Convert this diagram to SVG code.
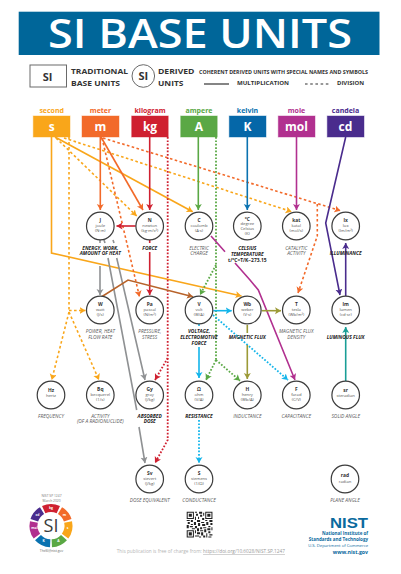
<svg xmlns="http://www.w3.org/2000/svg" width="401" height="574" viewBox="0 0 401 574">
<style>
text{font-family:"Open Sans","Liberation Sans",Arial,sans-serif}
.c{fill:none;stroke-width:1.6;stroke-linejoin:miter}
.dash{stroke-dasharray:2.6 2.4;stroke-width:1.6}
.dot{stroke-dasharray:1.7 1.7;stroke-width:1.8}
.n{fill:#fff;stroke:#3c3c3c;stroke-width:1.2}
.sy{font-size:4.9px;font-weight:700;text-anchor:middle;fill:#333}
.nm{font-size:4.2px;text-anchor:middle;fill:#555}
.cap{font-size:4.9px;font-style:italic;text-anchor:middle;fill:#5a5a5a}
.capb{font-size:4.9px;font-style:italic;font-weight:700;text-anchor:middle;fill:#222}
.box{stroke-width:1;stroke-opacity:.45}
.bl{font-size:12px;font-weight:700;text-anchor:middle;fill:#fff}
.ul{font-size:7px;font-weight:700;text-anchor:middle}
.lg{font-size:7px;font-weight:700;fill:#333}
.lgs{font-size:4.4px;font-weight:700;fill:#333}
.nist{fill:#0a6a9e;font-weight:700;text-anchor:end}
.seg{fill:none;stroke-width:8}
.sl{font-size:3.4px;fill:#fff;text-anchor:middle;font-weight:700}
.org{stroke:#f9a61a}.mor{stroke:#f26a2a}.red{stroke:#cf2030}.grn{stroke:#5aa845}.blu{stroke:#0a72b0}.mag{stroke:#b1308f}.pur{stroke:#4a2c8d}.gry{stroke:#8f9193}.brn{stroke:#b8632a}.cya{stroke:#13b5ea}.olv{stroke:#9c9a37}.tea{stroke:#1a9e96}
</style>
<defs>
<marker id="aorg" markerUnits="userSpaceOnUse" markerWidth="8" markerHeight="8" refX="6" refY="3.5" orient="auto"><path d="M0 0L6 3.5L0 7L1.4 3.5z" fill="#f9a61a"/></marker>
<marker id="amor" markerUnits="userSpaceOnUse" markerWidth="8" markerHeight="8" refX="6" refY="3.5" orient="auto"><path d="M0 0L6 3.5L0 7L1.4 3.5z" fill="#f26a2a"/></marker>
<marker id="ared" markerUnits="userSpaceOnUse" markerWidth="8" markerHeight="8" refX="6" refY="3.5" orient="auto"><path d="M0 0L6 3.5L0 7L1.4 3.5z" fill="#cf2030"/></marker>
<marker id="agrn" markerUnits="userSpaceOnUse" markerWidth="8" markerHeight="8" refX="6" refY="3.5" orient="auto"><path d="M0 0L6 3.5L0 7L1.4 3.5z" fill="#5aa845"/></marker>
<marker id="ablu" markerUnits="userSpaceOnUse" markerWidth="8" markerHeight="8" refX="6" refY="3.5" orient="auto"><path d="M0 0L6 3.5L0 7L1.4 3.5z" fill="#0a72b0"/></marker>
<marker id="amag" markerUnits="userSpaceOnUse" markerWidth="8" markerHeight="8" refX="6" refY="3.5" orient="auto"><path d="M0 0L6 3.5L0 7L1.4 3.5z" fill="#b1308f"/></marker>
<marker id="apur" markerUnits="userSpaceOnUse" markerWidth="8" markerHeight="8" refX="6" refY="3.5" orient="auto"><path d="M0 0L6 3.5L0 7L1.4 3.5z" fill="#4a2c8d"/></marker>
<marker id="agry" markerUnits="userSpaceOnUse" markerWidth="8" markerHeight="8" refX="6" refY="3.5" orient="auto"><path d="M0 0L6 3.5L0 7L1.4 3.5z" fill="#8f9193"/></marker>
<marker id="abrn" markerUnits="userSpaceOnUse" markerWidth="8" markerHeight="8" refX="6" refY="3.5" orient="auto"><path d="M0 0L6 3.5L0 7L1.4 3.5z" fill="#b8632a"/></marker>
<marker id="acya" markerUnits="userSpaceOnUse" markerWidth="8" markerHeight="8" refX="6" refY="3.5" orient="auto"><path d="M0 0L6 3.5L0 7L1.4 3.5z" fill="#13b5ea"/></marker>
<marker id="aolv" markerUnits="userSpaceOnUse" markerWidth="8" markerHeight="8" refX="6" refY="3.5" orient="auto"><path d="M0 0L6 3.5L0 7L1.4 3.5z" fill="#9c9a37"/></marker>
<marker id="atea" markerUnits="userSpaceOnUse" markerWidth="8" markerHeight="8" refX="6" refY="3.5" orient="auto"><path d="M0 0L6 3.5L0 7L1.4 3.5z" fill="#1a9e96"/></marker>
</defs>
<rect width="401" height="574" fill="#fff"/>
<g id="title"><rect x="18.7" y="11.7" width="360.8" height="43.3" fill="#006699"/><text x="200" y="48" font-size="39" font-weight="600" text-anchor="middle" fill="#fff" textLength="304" lengthAdjust="spacingAndGlyphs">SI BASE UNITS</text></g>
<g id="legend">
<rect x="30" y="65" width="36.5" height="22" fill="#fff" stroke="#6a6a6a" stroke-width="1"/><text x="47.500" y="81" font-size="11" font-weight="700" text-anchor="middle" fill="#333">SI</text>
<text class="lg" x="71" y="74" textLength="57" lengthAdjust="spacingAndGlyphs">TRADITIONAL</text><text class="lg" x="71" y="85.500" textLength="49" lengthAdjust="spacingAndGlyphs">BASE UNITS</text>
<circle cx="143.300" cy="76" r="11.300" fill="#fff" stroke="#6a6a6a" stroke-width="1"/><text x="143.300" y="80" font-size="11" font-weight="700" text-anchor="middle" fill="#333">SI</text>
<text class="lg" x="158" y="74" textLength="36.500" lengthAdjust="spacingAndGlyphs">DERIVED</text><text class="lg" x="158" y="85.500" textLength="25.500" lengthAdjust="spacingAndGlyphs">UNITS</text>
<text class="lgs" x="199" y="74" textLength="169" lengthAdjust="spacingAndGlyphs">COHERENT DERIVED UNITS WITH SPECIAL NAMES AND SYMBOLS</text>
<path d="M204 84h25" stroke="#333" stroke-width="1.2"/><text class="lgs" x="237" y="85" textLength="52" lengthAdjust="spacingAndGlyphs">MULTIPLICATION</text>
<path d="M305 84h25" stroke="#333" stroke-width="1.2" stroke-dasharray="2.6 2.6"/><text class="lgs" x="337" y="85" textLength="27" lengthAdjust="spacingAndGlyphs">DIVISION</text>
</g>
<g id="connectors">
<path class="c org" d="M51.500 137V253L241.500 296" marker-end="url(#aorg)"/>
<path class="c org" d="M55 137L192.700 211.700" marker-end="url(#aorg)"/>
<path class="c org dash" d="M56 138L136.700 216" marker-end="url(#aorg)"/>
<path class="c org dash" d="M64 138L291.700 211.700" marker-end="url(#aorg)"/>
<path class="c org dash" d="M69 137V310" />
<path class="c org dash" d="M69 310.500H85.500" marker-end="url(#aorg)"/>
<path class="c org dash" d="M69 312L51.700 380" marker-end="url(#aorg)"/>
<path class="c org dash" d="M69 312L99 380" marker-end="url(#aorg)"/>
<path class="c mor" d="M100.300 137V210" marker-end="url(#amor)"/>
<path class="c mor" d="M101 137L143 210" marker-end="url(#amor)"/>
<path class="c mor dash" d="M102 138L139.500 296.700" marker-end="url(#amor)"/>
<path class="c mor dash" d="M103 138L340.500 210.700" marker-end="url(#amor)"/>
<path class="c mor dash" d="M317.300 204V236L298 293" marker-end="url(#amor)"/>
<path class="c red" d="M149.700 137V210" marker-end="url(#ared)"/>
<path class="c red" d="M135.700 226H116.500" marker-end="url(#ared)"/>
<path class="c red" d="M149.700 240V243M149.700 252V295" marker-end="url(#ared)"/>
<path class="c red dot" d="M167.700 137V358L155 380" marker-end="url(#ared)"/>
<path class="c red dot" d="M167.700 358V440L155 463" marker-end="url(#ared)"/>
<path class="c grn" d="M198.300 137V210" marker-end="url(#agrn)"/>
<path class="c grn dot" d="M216 137V360"/>
<path class="c grn dot" d="M216 265L200 295" marker-end="url(#agrn)"/>
<path class="c grn dot" d="M216 360L206 380" marker-end="url(#agrn)"/>
<path class="c grn dot" d="M216 360L240 380.700" marker-end="url(#agrn)"/>
<path class="c blu" d="M247.300 137V210" marker-end="url(#ablu)"/>
<path class="c mag" d="M296.500 137V210" marker-end="url(#amag)"/>
<path class="c pur" d="M345.700 137L325.700 223L340 295" marker-end="url(#apur)"/>
<path class="c pur" d="M345.700 296V243" marker-end="url(#apur)"/>
<path class="c tea" d="M345.700 381V327" marker-end="url(#atea)"/>
<path class="c mag" d="M211 236L225 251.700M235 263L250 280L258.300 290L295 380" marker-end="url(#amag)"/>
<path class="c gry" d="M100 240V243M100 266V295" marker-end="url(#agry)"/>
<path class="c gry" d="M113 240L114 243M116.700 258L145 380" marker-end="url(#agry)"/>
<path class="c gry" d="M104 240L105 243M108 258L136.700 410M139 427L145 463" marker-end="url(#agry)"/>
<path class="c brn" d="M101.700 296.700L128 280L193 296.700" marker-end="url(#abrn)"/>
<path class="c cya" d="M213.300 310.700H231.700" marker-end="url(#acya)"/>
<path class="c cya" d="M199 324V326M199 347V378" marker-end="url(#acya)"/>
<path class="c cya dot" d="M213 315L288 380" marker-end="url(#acya)"/>
<path class="c cya dot" d="M199 420V463" marker-end="url(#acya)"/>
<path class="c olv" d="M261.700 310.700H281" marker-end="url(#aolv)"/>
<path class="c olv" d="M247.300 325V333M247.300 345V379" marker-end="url(#aolv)"/>
</g>
<g id="base-s"><text class="ul" x="51.700" y="113" fill="#f9a61a">second</text><rect class="box" x="33.300" y="116" width="36.700" height="21" fill="#f9a61a" stroke="#f9a61a"/><text class="bl" x="51.700" y="130.500">s</text></g>
<g id="base-m"><text class="ul" x="100.500" y="113" fill="#f26a2a">meter</text><rect class="box" x="82" y="116" width="37" height="21" fill="#f26a2a" stroke="#f26a2a"/><text class="bl" x="100.500" y="130.500">m</text></g>
<g id="base-kg"><text class="ul" x="150" y="113" fill="#cf2030">kilogram</text><rect class="box" x="131.700" y="116" width="36.500" height="21" fill="#cf2030" stroke="#cf2030"/><text class="bl" x="150" y="130.500">kg</text></g>
<g id="base-A"><text class="ul" x="199" y="113" fill="#5aa845">ampere</text><rect class="box" x="180.700" y="116" width="36.500" height="21" fill="#5aa845" stroke="#5aa845"/><text class="bl" x="199" y="130.500">A</text></g>
<g id="base-K"><text class="ul" x="247.500" y="113" fill="#0a72b0">kelvin</text><rect class="box" x="229.300" y="116" width="36.700" height="21" fill="#0567a8" stroke="#0567a8"/><text class="bl" x="247.500" y="130.500">K</text></g>
<g id="base-mol"><text class="ul" x="296.500" y="113" fill="#b1308f">mole</text><rect class="box" x="278.300" y="116" width="36.700" height="21" fill="#b1308f" stroke="#b1308f"/><text class="bl" x="296.500" y="130.500">mol</text></g>
<g id="base-cd"><text class="ul" x="345.500" y="113" fill="#4a2c8d">candela</text><rect class="box" x="327.300" y="116" width="36.700" height="21" fill="#4a2c8d" stroke="#4a2c8d"/><text class="bl" x="345.500" y="130.500">cd</text></g>

<g id="node-J"><circle class="n" cx="100.300" cy="226" r="13.800"/><text class="sy" x="100.300" y="221.500">J</text><text class="nm" x="100.300" y="227">joule</text><text class="nm" x="100.300" y="232">(N·m)</text><text class="capb" x="100.300" y="249.500">ENERGY, WORK,</text><text class="capb" x="100.300" y="255">AMOUNT OF HEAT</text></g>
<g id="node-N"><circle class="n" cx="149.700" cy="226" r="13.800"/><text class="sy" x="149.700" y="221.500">N</text><text class="nm" x="149.700" y="227">newton</text><text class="nm" x="149.700" y="232">(kg·m/s²)</text><text class="capb" x="149.700" y="249.500">FORCE</text></g>
<g id="node-C"><circle class="n" cx="199" cy="226" r="13.800"/><text class="sy" x="199" y="221.500">C</text><text class="nm" x="199" y="227">coulomb</text><text class="nm" x="199" y="232">(A·s)</text><text class="cap" x="199" y="249.500">ELECTRIC</text><text class="cap" x="199" y="255">CHARGE</text></g>
<g id="node-degC"><circle class="n" cx="247.300" cy="226" r="13.800"/><text class="sy" x="247.300" y="220.500">°C</text><text class="nm" x="247.300" y="225">degree</text><text class="nm" x="247.300" y="230">Celsius</text><text class="nm" x="247.300" y="235">(K)</text><text class="capb" x="247.300" y="249.500">CELSIUS</text><text class="capb" x="247.300" y="255.500">TEMPERATURE</text><text class="capb" x="247.300" y="261.800" style="font-style:normal">t/°C=T/K−273.15</text></g>
<g id="node-kat"><circle class="n" cx="296.300" cy="226" r="13.800"/><text class="sy" x="296.300" y="221.500">kat</text><text class="nm" x="296.300" y="227">katal</text><text class="nm" x="296.300" y="232">(mol/s)</text><text class="cap" x="296.300" y="249.500">CATALYTIC</text><text class="cap" x="296.300" y="255">ACTIVITY</text></g>
<g id="node-lx"><circle class="n" cx="345.700" cy="226" r="13.800"/><text class="sy" x="345.700" y="221.500">lx</text><text class="nm" x="345.700" y="227">lux</text><text class="nm" x="345.700" y="232">(lm/m²)</text><text class="capb" x="345.700" y="255">ILLUMINANCE</text></g>

<g id="node-W"><circle class="n" cx="100.300" cy="310" r="13.800"/><text class="sy" x="100.300" y="305.500">W</text><text class="nm" x="100.300" y="311">watt</text><text class="nm" x="100.300" y="316">(J/s)</text><text class="cap" x="100.300" y="333">POWER, HEAT</text><text class="cap" x="100.300" y="338.500">FLOW RATE</text></g>
<g id="node-Pa"><circle class="n" cx="149.700" cy="310" r="13.800"/><text class="sy" x="149.700" y="305.500">Pa</text><text class="nm" x="149.700" y="311">pascal</text><text class="nm" x="149.700" y="316">(N/m²)</text><text class="cap" x="149.700" y="333">PRESSURE,</text><text class="cap" x="149.700" y="338.500">STRESS</text></g>
<g id="node-V"><circle class="n" cx="199" cy="310" r="13.800"/><text class="sy" x="199" y="305.500">V</text><text class="nm" x="199" y="311">volt</text><text class="nm" x="199" y="316">(W/A)</text><text class="capb" x="199" y="333">VOLTAGE,</text><text class="capb" x="199" y="339">ELECTROMOTIVE</text><text class="capb" x="199" y="345">FORCE</text></g>
<g id="node-Wb"><circle class="n" cx="247.300" cy="310" r="13.800"/><text class="sy" x="247.300" y="305.500">Wb</text><text class="nm" x="247.300" y="311">weber</text><text class="nm" x="247.300" y="316">(V·s)</text><text class="capb" x="247.300" y="338.500">MAGNETIC FLUX</text></g>
<g id="node-T"><circle class="n" cx="296.300" cy="310" r="13.800"/><text class="sy" x="296.300" y="305.500">T</text><text class="nm" x="296.300" y="311">tesla</text><text class="nm" x="296.300" y="316">(Wb/m²)</text><text class="cap" x="296.300" y="333">MAGNETIC FLUX</text><text class="cap" x="296.300" y="338.500">DENSITY</text></g>
<g id="node-lm"><circle class="n" cx="345.700" cy="310" r="13.800"/><text class="sy" x="345.700" y="305.500">lm</text><text class="nm" x="345.700" y="311">lumen</text><text class="nm" x="345.700" y="316">(cd·sr)</text><text class="capb" x="345.700" y="338.500">LUMINOUS FLUX</text></g>

<g id="node-Hz"><circle class="n" cx="51" cy="395" r="13.800"/><text class="sy" x="51" y="391.500">Hz</text><text class="nm" x="51" y="397">hertz</text><text class="cap" x="51" y="417.500">FREQUENCY</text></g>
<g id="node-Bq"><circle class="n" cx="100.300" cy="395" r="13.800"/><text class="sy" x="100.300" y="390.500">Bq</text><text class="nm" x="100.300" y="396">becquerel</text><text class="nm" x="100.300" y="401">(1/s)</text><text class="cap" x="100.300" y="417.500">ACTIVITY</text><text class="cap" x="100.300" y="423">(OF A RADIONUCLIDE)</text></g>
<g id="node-Gy"><circle class="n" cx="149.700" cy="395" r="13.800"/><text class="sy" x="149.700" y="390.500">Gy</text><text class="nm" x="149.700" y="396">gray</text><text class="nm" x="149.700" y="401">(J/kg)</text><text class="capb" x="149.700" y="417.500">ABSORBED</text><text class="capb" x="149.700" y="423">DOSE</text></g>
<g id="node-ohm"><circle class="n" cx="199" cy="395" r="13.800"/><text class="sy" x="199" y="390.500">Ω</text><text class="nm" x="199" y="396">ohm</text><text class="nm" x="199" y="401">(V/A)</text><text class="capb" x="199" y="417.500">RESISTANCE</text></g>
<g id="node-H"><circle class="n" cx="247.300" cy="395" r="13.800"/><text class="sy" x="247.300" y="390.500">H</text><text class="nm" x="247.300" y="396">henry</text><text class="nm" x="247.300" y="401">(Wb/A)</text><text class="cap" x="247.300" y="417.500">INDUCTANCE</text></g>
<g id="node-F"><circle class="n" cx="296.300" cy="395" r="13.800"/><text class="sy" x="296.300" y="390.500">F</text><text class="nm" x="296.300" y="396">farad</text><text class="nm" x="296.300" y="401">(C/V)</text><text class="cap" x="296.300" y="417.500">CAPACITANCE</text></g>
<g id="node-sr"><circle class="n" cx="345.700" cy="395" r="13.800"/><text class="sy" x="345.700" y="391.500">sr</text><text class="nm" x="345.700" y="397">steradian</text><text class="cap" x="345.700" y="417.500">SOLID ANGLE</text></g>

<g id="node-Sv"><circle class="n" cx="149.700" cy="479" r="13.800"/><text class="sy" x="149.700" y="474.500">Sv</text><text class="nm" x="149.700" y="480">sievert</text><text class="nm" x="149.700" y="485">(J/kg)</text><text class="cap" x="149.700" y="501.500">DOSE EQUIVALENT</text></g>
<g id="node-S"><circle class="n" cx="199" cy="479" r="13.800"/><text class="sy" x="199" y="474.500">S</text><text class="nm" x="199" y="480">siemens</text><text class="nm" x="199" y="485">(1/Ω)</text><text class="cap" x="199" y="501.500">CONDUCTANCE</text></g>
<g id="node-rad"><circle class="n" cx="345" cy="479" r="13.800"/><text class="sy" x="345" y="477">rad</text><text class="nm" x="345" y="483">radian</text><text class="cap" x="345" y="501.500">PLANE ANGLE</text></g>

<g id="si-logo">
<text x="51.500" y="497" font-size="3.300" text-anchor="middle" fill="#777">NIST SP 1247</text><text x="51.500" y="501.500" font-size="3.300" text-anchor="middle" fill="#777">March 2020</text>
<g transform="translate(51 525.700)">
<path class="seg" stroke="#cf2030" d="M-7.300 -16A17.600 17.600 0 0 1 7.300 -16"/>
<path class="seg" stroke="#f26a2a" d="M9 -15.100A17.600 17.600 0 0 1 16.700 -5.500"/>
<path class="seg" stroke="#f9a61a" d="M17.100 -3.700A17.600 17.600 0 0 1 14.100 10.500"/>
<path class="seg" stroke="#5aa845" d="M13 11.900A17.600 17.600 0 0 1 .8 17.600"/>
<path class="seg" stroke="#0a72b0" d="M-.8 17.600A17.600 17.600 0 0 1 -13 11.900"/>
<path class="seg" stroke="#b1308f" d="M-14.100 10.500A17.600 17.600 0 0 1 -17.100 -3.700"/>
<path class="seg" stroke="#4a2c8d" d="M-16.700 -5.500A17.600 17.600 0 0 1 -9 -15.100"/>
<text class="sl" x="0" y="-16.500">kg</text><text class="sl" x="13.500" y="-9.500">m</text><text class="sl" x="16.500" y="3.500">s</text><text class="sl" x="7.500" y="16">A</text><text class="sl" x="-7.500" y="16">K</text><text class="sl" x="-16.500" y="3.500">mol</text><text class="sl" x="-13.500" y="-9.500">cd</text>
<text x="0" y="6.500" font-size="18" text-anchor="middle" fill="#3a3a3a">SI</text>
</g>
<text x="51.500" y="552" font-size="3.300" text-anchor="middle" fill="#666">TheSI@nist.gov</text>
</g>
<g id="qr" transform="translate(186.700 511.700) scale(1.03)"><path fill="#222" fill-rule="evenodd" d="M0 0h7v7h-7zM1 1v5h5v-5zM2 2h3v3h-3zM18 0h7v7h-7zM19 1v5h5v-5zM20 2h3v3h-3zM0 18h7v7h-7zM1 19v5h5v-5zM2 20h3v3h-3zM8 0h2v1h-2zM12 0h3v2h-3zM16 1h1v3h-1zM9 2h2v2h-2zM13 3h2v2h-2zM8 5h1v3h-1zM11 5h1v2h-1zM15 6h2v2h-2zM0 8h3v1h-3zM4 8h2v2h-2zM10 8h3v2h-3zM18 8h2v1h-2zM22 8h3v2h-3zM1 10h2v2h-2zM7 10h2v3h-2zM14 10h3v1h-3zM19 10h2v3h-2zM4 12h2v1h-2zM11 11h2v3h-2zM15 12h3v2h-3zM23 11h2v2h-2zM0 13h2v3h-2zM3 14h3v1h-3zM8 14h2v2h-2zM13 15h2v2h-2zM21 14h2v1h-2zM5 16h3v1h-3zM10 16h2v3h-2zM16 15h3v1h-3zM24 15h1v3h-1zM20 16h3v2h-3zM8 18h1v3h-1zM13 18h3v1h-3zM17 17h2v3h-2zM21 19h2v2h-2zM10 20h3v2h-3zM14 20h2v3h-2zM19 21h1v4h-1zM8 23h4v1h-4zM12 24h2v1h-2zM16 23h2v2h-2zM22 22h3v1h-3zM21 24h3v1h-3z"/></g>
<g id="nist">
<text class="nist" x="368" y="527.500" font-size="14" textLength="38" lengthAdjust="spacingAndGlyphs" style="font-family:'Liberation Sans',Arial,sans-serif">NIST</text>
<text class="nist" x="368" y="534.500" font-size="4.500">National Institute of</text>
<text class="nist" x="368" y="540.500" font-size="4.500">Standards and Technology</text>
<text class="nist" x="368" y="546.500" font-size="4.200" style="font-weight:400">U.S. Department of Commerce</text>
<text class="nist" x="368" y="553.500" font-size="5.200">www.nist.gov</text>
</g>
<text id="footer" x="116.700" y="553" font-size="4.400" fill="#b5b5b5" textLength="168.300" lengthAdjust="spacingAndGlyphs">This publication is free of charge from: <tspan fill="#9a9a9a" text-decoration="underline">https://doi.org/10.6028/NIST.SP.1247</tspan></text>
</svg>
